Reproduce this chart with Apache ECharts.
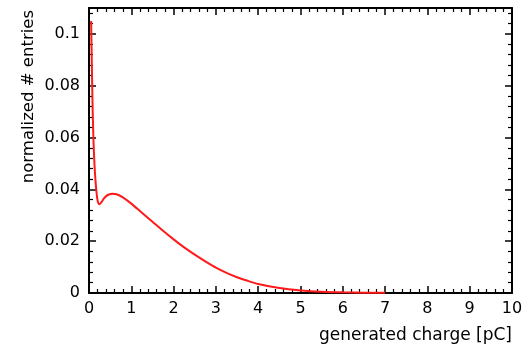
<!DOCTYPE html>
<html>
<head>
<meta charset="utf-8">
<script src="https://cdn.jsdelivr.net/npm/echarts@6/dist/echarts.min.js"></script>
<style>html,body{margin:0;padding:0;background:#fff}#c{width:529px;height:348px}</style>
</head>
<body>
<div id="c"></div>
<script>
const xValues = [0.05,0.08,0.1,0.12,0.14,0.16,0.18,0.2,0.22,0.25,0.3,0.35,0.4,0.47,0.55,0.65,0.8,1.0,1.25,1.5,1.75,2.0,2.25,2.5,2.75,3.0,3.25,3.5,3.75,4.0,4.5,5.0,5.5,6.0,6.5,7.0];
const yValues = [0.105,0.076,0.062,0.053,0.0465,0.042,0.0385,0.036,0.0347,0.0343,0.0352,0.0364,0.0373,0.038,0.0383,0.0381,0.0369,0.0345,0.031,0.0275,0.024,0.0207,0.0176,0.0148,0.0122,0.0098,0.0078,0.0061,0.0047,0.0035,0.0019,0.001,0.0005,0.00025,0.0001,0.00005];
const xTicks = [0,1,2,3,4,5,6,7,8,9,10];
const yTicks = [0,0.02,0.04,0.06,0.08,0.1];
const xTitle = 'generated charge [pC]';
const yTitle = 'normalized # entries';

const font = '"DejaVu Sans", sans-serif';
const chart = echarts.init(document.getElementById('c'));
function common() {
  return {
    axisLine: {show:true, onZero:false, lineStyle:{color:'#000', width:2}},
    axisTick: {show:true, inside:true, length:7, lineStyle:{color:'#000', width:1.5}},
    minorTick: {show:true, splitNumber:5, length:4, lineStyle:{color:'#000', width:1.2}},
    splitLine: {show:false}
  };
}
chart.setOption({
  animation:false,
  backgroundColor:'#fff',
  grid:{left:89, right:17, top:8, bottom:55},
  xAxis:[
    Object.assign({type:'value', min:0, max:10, interval:1, position:'bottom',
      axisLabel:{color:'#000', fontSize:16, fontFamily:font, margin:8,
        formatter:v=>xTicks.includes(v)?String(v):''}}, common()),
    Object.assign({type:'value', min:0, max:10, interval:1, position:'top', axisLabel:{show:false}}, common())
  ],
  yAxis:[
    Object.assign({type:'value', min:0, max:0.11, interval:0.02, position:'left',
      axisLabel:{color:'#000', fontSize:16, fontFamily:font, margin:9,
        formatter:v=>{const t=yTicks.find(k=>Math.abs(k-v)<1e-9); return t===undefined?'':String(t);}}}, common()),
    Object.assign({type:'value', min:0, max:0.11, interval:0.02, position:'right', axisLabel:{show:false}}, common())
  ],
  graphic:[
    {type:'text', right:17, top:327, style:{text:xTitle, font:'17px '+font, fill:'#000'}},
    {type:'text', left:20, top:10, rotation:Math.PI/2, style:{text:yTitle, font:'16.5px '+font, fill:'#000'}}
  ],
  series:[{
    type:'line', showSymbol:false, smooth:0.3, clip:true,
    data:xValues.map((x,i)=>[x,yValues[i]]),
    lineStyle:{color:'#ff1a1a', width:2}
  }]
});
</script>
</body>
</html>
